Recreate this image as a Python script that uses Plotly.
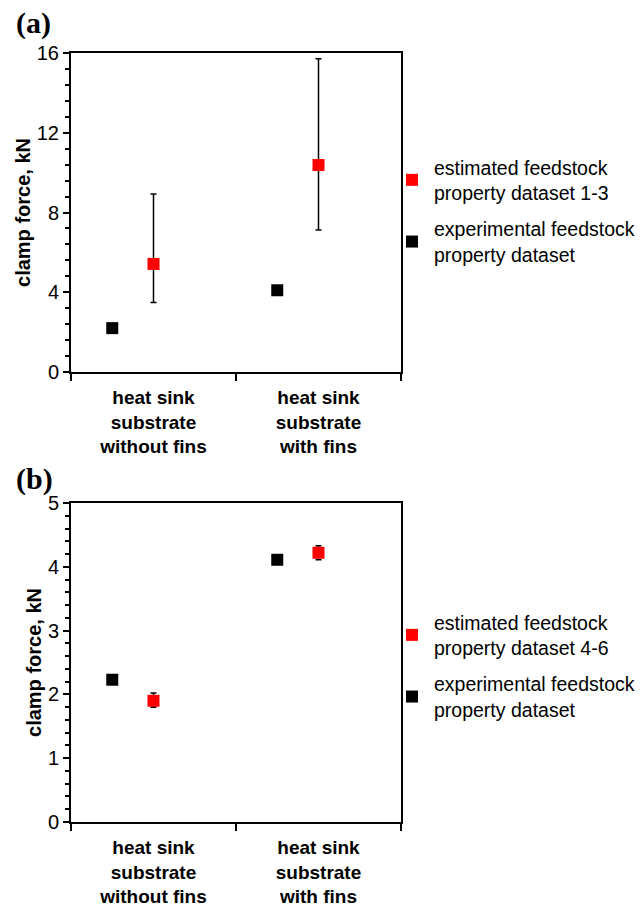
import plotly.graph_objects as go

# ---------------- data ----------------
categories = ["heat sink<br>substrate<br>without fins", "heat sink<br>substrate<br>with fins"]
cat_pos = [0.5, 1.5]          # category centres on the x axis
cat_edges = [0, 1, 2]         # category boundaries (tick marks)
exp_pos = [0.25, 1.25]        # experimental markers
est_pos = [0.5, 1.5]          # estimated markers

name_est_a = "estimated feedstock<br>property dataset 1-3"
name_est_b = "estimated feedstock<br>property dataset 4-6"
name_exp = "experimental feedstock<br>property dataset"

# panel (a)
exp_a = [2.2, 4.1]
est_a = [5.42, 10.38]
est_a_hi = [8.93, 15.71]
est_a_lo = [3.48, 7.12]

# panel (b)
exp_b = [2.23, 4.11]
est_b = [1.90, 4.22]
est_b_hi = [2.02, 4.33]
est_b_lo = [1.80, 4.11]

# ---------------- figure ----------------
W, H = 644, 906
RED = "#ff0000"
BLACK = "#000000"
FONT = "Liberation Sans"

def px_x(p):
    return p / W

def px_y(p):
    return 1 - p / H

fig = go.Figure()

def add_panel(est, hi, lo, exp, est_name, xa, ya, legend):
    fig.add_trace(go.Scatter(
        x=est_pos, y=est, mode="markers", name=est_name,
        xaxis=xa, yaxis=ya, legend=legend, legendgroup=legend + "est",
        marker=dict(symbol="square", size=12, color=RED, line=dict(width=0)),
        error_y=dict(type="data", symmetric=False,
                     array=[h - v for h, v in zip(hi, est)],
                     arrayminus=[v - l for v, l in zip(est, lo)],
                     color=BLACK, thickness=1.5, width=3),
    ))
    fig.add_trace(go.Scatter(
        x=exp_pos, y=exp, mode="markers", name=name_exp,
        xaxis=xa, yaxis=ya, legend=legend, legendgroup=legend + "exp",
        marker=dict(symbol="square", size=12, color=BLACK, line=dict(width=0)),
    ))

add_panel(est_a, est_a_hi, est_a_lo, exp_a, name_est_a, "x", "y", "legend")
add_panel(est_b, est_b_hi, est_b_lo, exp_b, name_est_b, "x2", "y2", "legend2")

xdom = [px_x(71), px_x(401)]
ydom_a = [px_y(372), px_y(53)]
ydom_b = [px_y(822), px_y(503)]

def xaxis_cfg(anchor):
    return dict(
        domain=xdom, anchor=anchor, range=[0, 2],
        tickmode="array", tickvals=cat_pos, ticktext=categories, ticks="",
        tickfont=dict(family=FONT, size=19, color=BLACK, weight="bold"),
        ticklabelstandoff=7,
        minor=dict(tickmode="array", tickvals=cat_edges, ticks="outside",
                   ticklen=7, tickwidth=1.5, tickcolor=BLACK),
        showline=True, linewidth=2, linecolor=BLACK, mirror=True,
        showgrid=False, zeroline=False, fixedrange=True,
    )

def yaxis_cfg(anchor, dom, rng, dtick, mdtick):
    return dict(
        domain=dom, anchor=anchor, range=rng,
        tickmode="linear", tick0=0, dtick=dtick,
        ticks="outside", ticklen=6, tickwidth=1.5, tickcolor=BLACK,
        minor=dict(tickmode="linear", tick0=0, dtick=mdtick, ticks="outside",
                   ticklen=4, tickwidth=1.5, tickcolor=BLACK),
        tickfont=dict(family=FONT, size=20, color=BLACK),
        title=dict(text="clamp force, kN", standoff=1,
                   font=dict(family=FONT, size=20, color=BLACK, weight="bold")),
        showline=True, linewidth=2, linecolor=BLACK, mirror=True,
        showgrid=False, zeroline=False, fixedrange=True,
    )

legend_common = dict(
    xanchor="left", yanchor="top", traceorder="grouped", tracegroupgap=8,
    font=dict(family=FONT, size=19.5, color=BLACK), valign="middle",
    bgcolor="rgba(0,0,0,0)", borderwidth=0, itemwidth=34,
)

fig.update_layout(
    width=W, height=H,
    margin=dict(l=0, r=0, t=0, b=0, autoexpand=False),
    paper_bgcolor="white", plot_bgcolor="white",
    font=dict(family=FONT, color=BLACK),
    showlegend=True,
    xaxis=xaxis_cfg("y"),
    yaxis=yaxis_cfg("x", ydom_a, [0, 16], 4, 0.8),
    xaxis2=xaxis_cfg("y2"),
    yaxis2=yaxis_cfg("x2", ydom_b, [0, 5], 1, 0.2),
    legend=dict(x=px_x(390), y=px_y(148), **legend_common),
    legend2=dict(x=px_x(390), y=px_y(603), **legend_common),
    annotations=[
        dict(text="(a)", x=px_x(14), y=px_y(4), xref="paper", yref="paper",
             xanchor="left", yanchor="top", showarrow=False,
             font=dict(family="Liberation Serif", size=30, color=BLACK, weight="bold")),
        dict(text="(b)", x=px_x(14), y=px_y(460), xref="paper", yref="paper",
             xanchor="left", yanchor="top", showarrow=False,
             font=dict(family="Liberation Serif", size=30, color=BLACK, weight="bold")),
    ],
)

fig.write_html("out.html")
